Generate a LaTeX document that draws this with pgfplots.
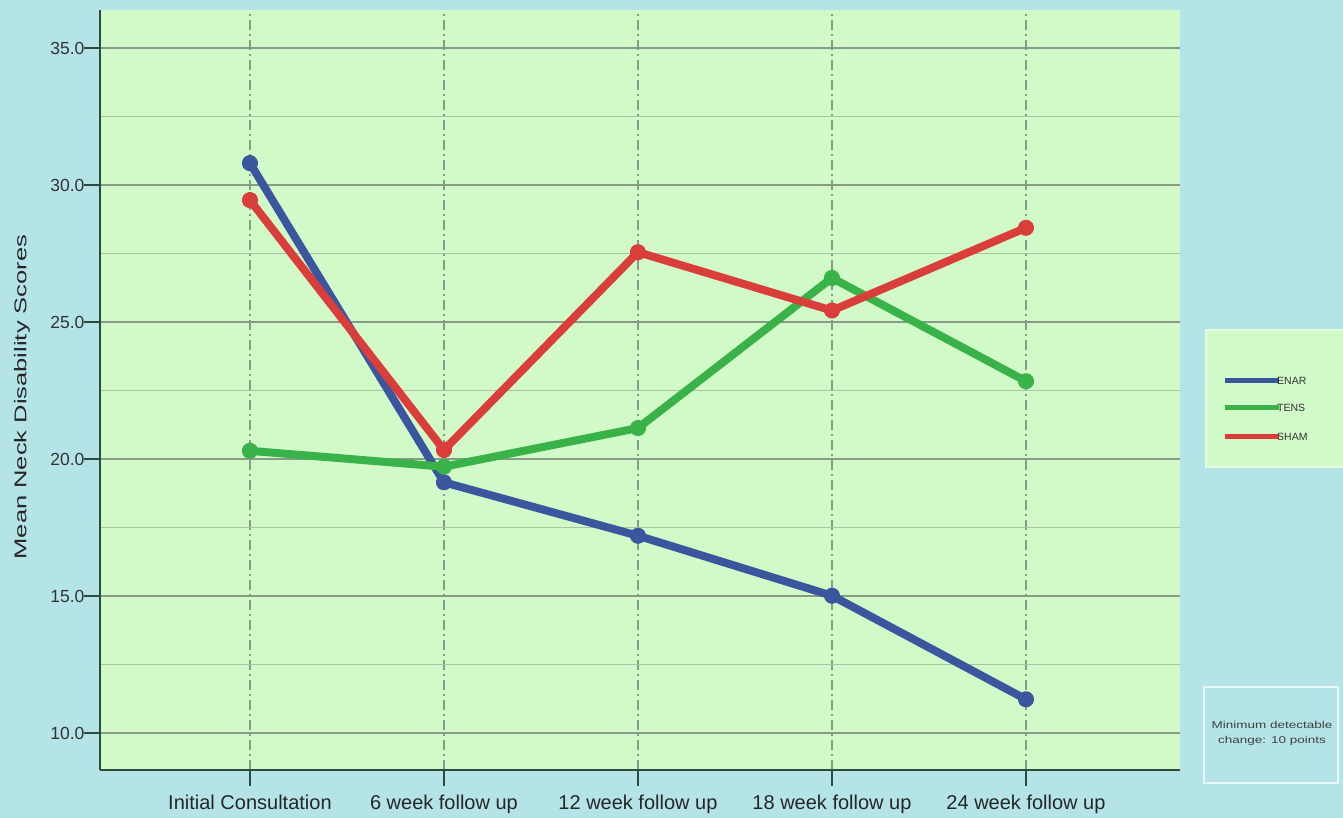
\documentclass[border=0pt]{standalone}
\usepackage{fontspec}
\setmainfont{Liberation Sans}
\usepackage{pgfplots}
\pgfplotsset{compat=1.18}
\definecolor{bgblue}{HTML}{B4E4E8}
\definecolor{plotgreen}{HTML}{D2FAC8}
\definecolor{axdark}{HTML}{2E4A3C}
\definecolor{gridmaj}{HTML}{889A88}
\definecolor{gridmin}{HTML}{A8C4A4}
\definecolor{enar}{HTML}{3A569E}
\definecolor{tens}{HTML}{3AB24A}
\definecolor{sham}{HTML}{DA3E3A}
\begin{document}
\begin{tikzpicture}[x=1pt,y=1pt]
\fill[bgblue] (0,0) rectangle (1343,818);
\begin{scope}
\clip (0,0) rectangle (1343,818);
\begin{axis}[
    at={(100pt,48pt)}, anchor=south west,
    scale only axis, width=1080pt, height=760pt,
    xmin=-0.773, xmax=4.794, ymin=8.65, ymax=36.39,
    axis background/.style={fill=plotgreen},
    axis x line*=bottom, axis y line*=left,
    axis line style={axdark, line width=2pt, -},
    xtick={0,1,2,3,4},
    xticklabels={Initial Consultation,6 week follow up,12 week follow up,18 week follow up,24 week follow up},
    ytick={10,15,20,25,30,35},
    minor ytick={12.5,17.5,22.5,27.5,32.5},
    yticklabel={\pgfmathprintnumber[fixed,fixed zerofill,precision=1]{\tick}},
    /pgf/number format/assume math mode=true,
    tick align=outside, major tick length=16pt, minor tick length=0pt,
    every tick/.style={axdark, line width=1.5pt},
    x tick label style={font=\fontsize{20}{21}\selectfont, color=black!85, yshift=-5pt},
    y tick label style={font=\fontsize{17.5}{18}\selectfont, color=black!80, xshift=4pt},
    ymajorgrids, yminorgrids, xmajorgrids,
    y grid style={gridmaj, line width=1.5pt},
    minor y grid style={gridmin, line width=1.2pt},
    x grid style={gridmaj, line width=1.2pt, dash pattern=on 10pt off 4pt on 2pt off 4pt},
    clip=false,
    line join=round,
]
\addplot[enar, line width=8pt, mark=*, mark size=4.2pt] coordinates {
    (0,30.80) (1,19.15) (2,17.20) (3,15.01) (4,11.23)};
\addplot[tens, line width=8pt, mark=*, mark size=4.2pt] coordinates {
    (0,20.30) (1,19.72) (2,21.13) (3,26.61) (4,22.84)};
\addplot[sham, line width=8pt, mark=*, mark size=4.2pt] coordinates {
    (0,29.45) (1,20.33) (2,27.55) (3,25.42) (4,28.44)};
\end{axis}
% y axis title
\node[rotate=90, font=\fontsize{17}{18}\selectfont, color=black!85] at (22,421)
    {\scalebox{1.5}[1]{Mean Neck Disability Scores}};
% legend box
\draw[plotgreen!60!white, fill=plotgreen, line width=2pt] (1206,351) rectangle (1346,488);
\foreach \c/\t/\yy in {enar/ENAR/437, tens/TENS/410, sham/SHAM/381}{
    \draw[\c, line width=5pt] (1225,\yy) -- (1279,\yy);
    \node[anchor=west, inner sep=0pt, font=\fontsize{10.5}{11}\selectfont, color=black!80] at (1277,\yy) {\t};
}
% note box
\draw[white!70!bgblue, line width=2pt] (1204,35) rectangle (1338,131);
\node[align=center, font=\fontsize{10}{15}\selectfont, color=black!75] at (1272,85)
    {\scalebox{1.35}[1]{Minimum detectable}\\\scalebox{1.35}[1]{change: 10 points}};
\end{scope}
\end{tikzpicture}
\end{document}
